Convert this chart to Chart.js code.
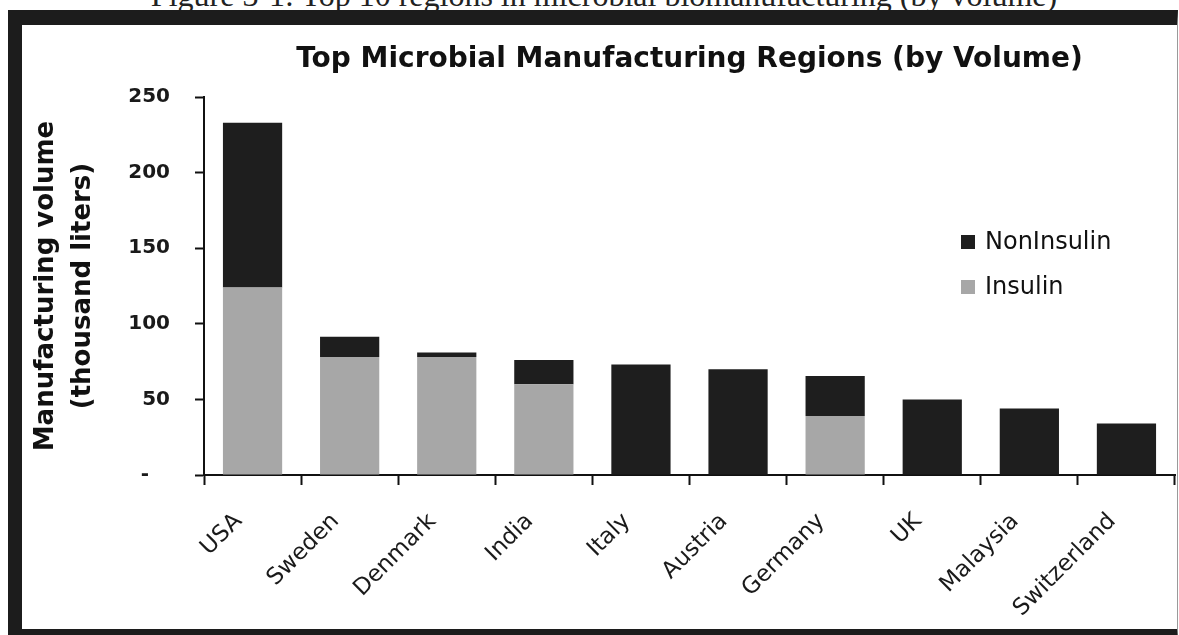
<!DOCTYPE html>
<html>
<head>
<meta charset="utf-8">
<script src="https://cdn.jsdelivr.net/npm/chart.js@4.4.1/dist/chart.umd.min.js"></script>
<style>
  html, body { margin: 0; padding: 0; background: #fff; overflow: hidden; }
  body { width: 1179px; height: 635px; position: relative; }
  #caption {
    position: absolute; left: 0; width: 1208px; top: -21px;
    font-family: "Liberation Serif", serif; font-size: 32px; line-height: 32px;
    text-align: center; color: #222; white-space: nowrap;
  }
  #frame {
    position: absolute; left: 8px; top: 10px;
    width: 1155px; height: 604px;
    border-left: 14px solid #1c1c1c;
    border-top: 15px solid #1c1c1c;
    border-bottom: 12px solid #1c1c1c;
    border-right: 1px solid #9a9a9a;
  }
  #wrap { position: relative; width: 1155px; height: 604px; }
</style>
</head>
<body>
<div id="caption">Figure 3-1: Top 10 regions in microbial biomanufacturing (by volume)</div>
<div id="frame"><div id="wrap"><canvas id="myChart"></canvas></div></div>
<script>
// regions, in thousand liters
const regions = ['USA', 'Sweden', 'Denmark', 'India', 'Italy', 'Austria', 'Germany', 'UK', 'Malaysia', 'Switzerland'];
const insulin = [124, 78, 78, 60, 0, 0, 39, 0, 0, 0];
const nonInsulin = [109, 13.5, 3, 16, 73, 70, 26.5, 50, 44, 34];
const yTicks = [0, 50, 100, 150, 200, 250];

const FONT = 'DejaVu Sans';

// legend sits inside the plot, top entry = last dataset
const insideLegend = {
  id: 'insideLegend',
  afterDraw(chart, args, opts) {
    const ctx = chart.ctx;
    const items = chart.data.datasets.slice().reverse();
    ctx.save();
    ctx.font = opts.size + 'px "' + FONT + '"';
    ctx.textBaseline = 'alphabetic';
    items.forEach((ds, i) => {
      const y = opts.y + i * opts.rowGap;
      ctx.fillStyle = ds.backgroundColor;
      ctx.fillRect(opts.x, y - opts.box, opts.box, opts.box);
      ctx.fillStyle = opts.color;
      ctx.fillText(ds.label, opts.x + opts.box + opts.gap, y);
    });
    ctx.restore();
  }
};

new Chart('myChart', {
  type: 'bar',
  data: {
    labels: regions,
    datasets: [
      { label: 'Insulin', data: insulin, backgroundColor: '#a7a7a7', borderWidth: 0 },
      { label: 'NonInsulin', data: nonInsulin, backgroundColor: '#1e1e1e', borderWidth: 0 }
    ]
  },
  options: {
    responsive: true,
    maintainAspectRatio: false,
    animation: false,
    layout: { padding: { left: 0, right: 2, top: 0, bottom: 0 } },
    datasets: { bar: { categoryPercentage: 1, barPercentage: 0.61 } },
    plugins: {
      legend: { display: false },
      tooltip: { enabled: false },
      title: {
        display: true,
        fullSize: false,
        text: 'Top Microbial Manufacturing Regions (by Volume)',
        color: '#111',
        font: { family: FONT, size: 28, weight: 'bold' },
        padding: { top: 18, bottom: 20.4 }
      },
      insideLegend: { x: 939, y: 224, rowGap: 45, box: 14, gap: 10, size: 24, color: '#111' }
    },
    scales: {
      x: {
        stacked: true,
        afterFit(scale) { scale.height = 154; },
        border: { display: true, color: '#111', width: 2 },
        grid: { offset: true, drawOnChartArea: false, drawTicks: true, tickLength: 10, tickColor: '#111', tickWidth: 2 },
        ticks: {
          autoSkip: false, minRotation: 45, maxRotation: 45,
          padding: 23, labelOffset: -14,
          color: '#1a1a1a', font: { family: FONT, size: 23 }
        }
      },
      y: {
        stacked: true,
        min: 0, max: 250,
        afterFit(scale) { scale.width = 182; },
        afterBuildTicks(scale) { scale.ticks = yTicks.map(v => ({ value: v })); },
        border: { display: true, color: '#111', width: 2 },
        grid: { drawOnChartArea: false, drawTicks: true, tickLength: 9, tickColor: '#111', tickWidth: 2 },
        ticks: {
          padding: 25,
          color: '#1a1a1a',
          font: { family: FONT, size: 20, weight: 'bold' },
          callback: v => v === 0 ? '-   ' : v
        },
        title: {
          display: true,
          text: ['Manufacturing volume', '(thousand liters)'],
          color: '#111',
          font: { family: FONT, size: 26, weight: 'bold', lineHeight: 1.45 },
          padding: { top: 5, bottom: 0 }
        }
      }
    }
  },
  plugins: [insideLegend]
});
</script>
</body>
</html>
